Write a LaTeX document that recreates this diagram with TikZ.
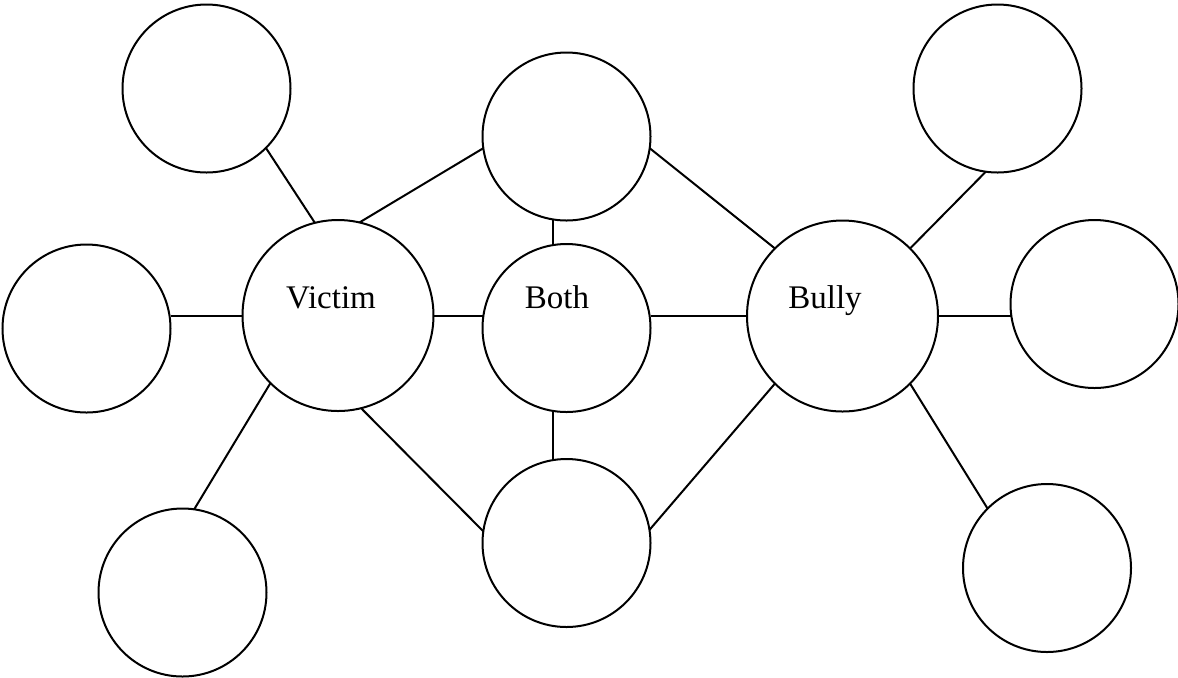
\documentclass[tikz,border=0pt]{standalone}
\usepackage{fontspec}
\setmainfont{Liberation Serif}

\begin{document}
\begin{tikzpicture}[x=0.5pt,y=-0.5pt,line width=1pt,
    bubble/.style={draw,circle,inner sep=0pt,outer sep=0pt,minimum size=84pt},
    bigbubble/.style={bubble,minimum size=95.5pt},
    lbl/.style={inner sep=0pt,anchor=base,font=\fontsize{16.5}{20}\selectfont}]
  \useasboundingbox (0,0) rectangle (1178,677);
  %% middle row
  \node[bigbubble] (victim) at (338,315.5) {};
  \node[bubble] (both) at (566.5,328) {};
  \node[bigbubble] (bully) at (842.5,316) {};
  \node[bubble] (upper) at (566.5,136.5) {};
  \node[bubble] (lower) at (566.5,543) {};
  %% round Victim
  \node[bubble] (vtop) at (206.5,88.5) {};
  \node[bubble] (vleft) at (86.5,328.5) {};
  \node[bubble] (vbottom) at (182.5,592.5) {};
  %% round Bully
  \node[bubble] (btop) at (997.5,88.5) {};
  \node[bubble] (bright) at (1094.5,304) {};
  \node[bubble] (bbottom) at (1047,568) {};
  %% texts sit above the centres
  \node[lbl] (victimtext) at (331,308) {Victim};
  \node[lbl] (bothtext) at (557,308) {Both};
  \node[lbl] (bullytext) at (825,308) {Bully};
  %% links
  \draw (vtop.-45) -- (victim.104);
  \draw (victim.west) -- (victim.west -| vleft.east);
  \draw (vbottom.82) -- (victim.-135);
  \draw (victim.77) -- (upper.188);
  \draw (victim.east) -- (victim.east -| both.west);
  \draw (victim.-76) -- (lower.172);
  \draw (upper.-99) -- (both.99);
  \draw (both.-99) -- (lower.99);
  \draw (upper.-8) -- (bully.135);
  \draw (bully.west) -- (bully.west -| both.east);
  \draw (lower.9) -- (bully.-135);
  \draw (bully.45) -- (btop.-98);
  \draw (bully.east) -- (bully.east -| bright.west);
  \draw (bully.-45) -- (bbottom.135);
\end{tikzpicture}
\end{document}
